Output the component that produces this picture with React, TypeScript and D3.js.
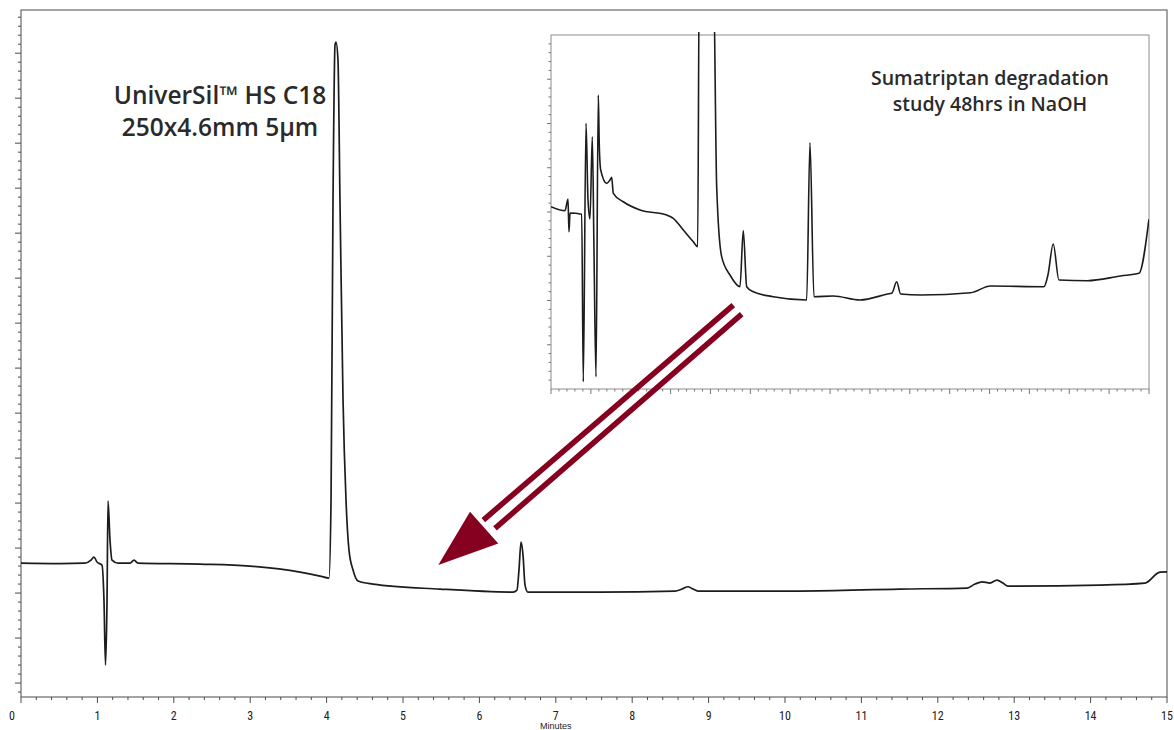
import { useEffect, useRef } from "react";
import * as d3 from "d3";

// main chromatogram: retention time (min) / detector signal (mAU)
const mainTime = [
  0, 0.51, 0.838, 0.916, 0.955, 0.995, 1.06, 1.086, 1.106, 1.126, 1.139, 1.165, 1.191, 1.27, 1.427, 1.479, 1.531,
  2.343, 2.997, 3.652, 3.914, 4.031, 4.058, 4.084, 4.11, 4.123, 4.149, 4.175, 4.215, 4.254, 4.293, 4.346, 4.411,
  4.607, 5.484, 6.44, 6.492, 6.518, 6.545, 6.571, 6.597, 6.636, 7.579, 8.56, 8.652, 8.73, 8.796, 8.861, 10.196,
  11.505, 12.382, 12.487, 12.579, 12.683, 12.775, 12.853, 12.919, 14.123, 14.712, 14.908, 15.0,
];
const mainSignal = [
  6.67, 6.56, 6.67, 7.33, 8.0, 6.89, 6.22, -1.56, -16.0, -1.56, 20.44, 11.78, 7.33, 6.67, 6.67, 7.33, 6.67,
  6.44, 6.0, 4.67, 3.78, 3.33, 20.67, 87.33, 121.78, 122.44, 118.44, 87.33, 42.89, 20.67, 9.56, 5.11, 2.67,
  2.0, 0.89, 0.22, 0.67, 5.11, 11.33, 8.44, 1.78, 0.22, 0.22, 0.44, 0.89, 1.4, 0.89, 0.44, 0.44,
  0.89, 1.11, 2.0, 2.51, 2.22, 2.89, 2.22, 1.56, 1.78, 2.22, 4.67, 4.73,
];

// inset: same run, magnified signal
const insetTime = [
  0.0, 0.351, 0.426, 0.451, 0.477, 0.77, 0.81, 0.878, 0.928, 0.978, 1.036, 1.078, 1.129, 1.186, 1.211, 1.247,
  1.397, 1.48, 1.522, 1.563, 1.813, 2.232, 2.902, 3.067, 3.318, 3.569, 3.679, 3.72, 4.07, 4.156, 4.281, 4.49,
  4.74, 4.823, 4.909, 5.074, 5.576, 6.413, 6.496, 6.596, 7.081, 7.75, 8.435, 8.553, 8.671, 8.771, 9.273,
  10.527, 11.029, 12.365, 12.465, 12.598, 12.741, 13.451, 14.289, 14.748, 14.998,
];
const insetSignal = [
  20.6, 20.15, 21.47, 17.77, 19.89, 19.74, 0.82, 30.02, 21.36, 19.21, 28.51, 15.71, 1.39, 33.22, 27.57, 24.75,
  23.24, 23.62, 23.92, 22.11, 21.16, 20.23, 19.66, 19.29, 17.97, 16.64, 16.08, 48, 48, 22.86, 14.95, 12.88,
  11.56, 17.89, 11.56, 10.99, 10.43, 10.06, 27.83, 10.43, 10.51, 10.06, 10.73, 10.85, 12.12, 10.73, 10.62,
  10.88, 11.64, 11.56, 12.88, 16.38, 12.32, 12.24, 12.77, 13.07, 19.18,
];

const xTickLabels = [0, 1, 2, 3, 4, 5, 6, 7, 8, 9, 10, 11, 12, 13, 14, 15];
const columnLabel = ["UniverSil™ HS C18", "250x4.6mm 5µm"];
const insetLabel = ["Sumatriptan degradation", "study 48hrs in NaOH"];

// arrow from inset down to the baseline region, in main-chart units [time, signal]
const arrowShaftA = [[9.323, 64.0], [6.051, 16.22]];
const arrowShaftB = [[9.433, 62.0], [6.204, 14.38]];
const arrowHead = [[5.462, 6.22], [5.877, 18.07], [6.247, 11.04]];

const W = 1174;
const H = 730;

export default function App() {
  const svgRef = useRef<SVGSVGElement>(null);

  useEffect(() => {
    if (!svgRef.current) return;
    const svg = d3.select(svgRef.current);
    svg.selectAll("*").remove();

    const x = d3.scaleLinear().domain([0, 15]).range([21, 1167]);
    const y = d3.scaleLinear().domain([-23.1, 129.6]).range([697, 10]);

    const frame = "#4a4a4a";

    // frame
    svg.append("rect")
      .attr("x", 21).attr("y", 10).attr("width", 1146).attr("height", 687)
      .attr("fill", "none").attr("stroke", frame).attr("stroke-width", 1);

    // bottom axis
    const xAxis = svg.append("g").attr("transform", "translate(0,697)");
    xAxis.selectAll("line.minor")
      .data(d3.range(0, 75).map((i) => i * 0.2).filter((d) => Math.abs(d - Math.round(d)) > 0.01))
      .enter().append("line")
      .attr("x1", (d) => x(d)).attr("x2", (d) => x(d))
      .attr("y1", 0).attr("y2", 3)
      .attr("stroke", frame);
    xAxis.selectAll("line.major")
      .data(xTickLabels)
      .enter().append("line")
      .attr("x1", (d) => x(d)).attr("x2", (d) => x(d))
      .attr("y1", 0).attr("y2", 6)
      .attr("stroke", frame);
    xAxis.selectAll("text")
      .data(xTickLabels)
      .enter().append("text")
      .attr("x", (d) => (d === 0 ? x(d) - 9 : x(d)))
      .attr("y", 23)
      .attr("text-anchor", "middle")
      .attr("font-family", "'Liberation Sans Narrow', 'Roboto Condensed', 'Liberation Sans', sans-serif")
      .attr("font-size", 12)
      .attr("fill", "#222")
      .text((d) => String(d));
    svg.append("text")
      .attr("x", x(7)).attr("y", 729)
      .attr("text-anchor", "middle")
      .attr("font-family", "'Liberation Sans Narrow', 'Liberation Sans', sans-serif")
      .attr("font-size", 9)
      .attr("fill", "#222")
      .text("Minutes");

    // left axis (unlabelled)
    const yMinor = d3.range(-22, 130, 2);
    svg.append("g").selectAll("line")
      .data(yMinor)
      .enter().append("line")
      .attr("x1", (d) => (d % 10 === 0 ? 15 : 18)).attr("x2", 21)
      .attr("y1", (d) => y(d)).attr("y2", (d) => y(d))
      .attr("stroke", frame);

    // main trace
    const mainData = mainTime.map((t, i) => [t, mainSignal[i]] as [number, number]);
    const line = d3.line<[number, number]>()
      .x((d) => x(d[0]))
      .y((d) => y(d[1]))
      .curve(d3.curveMonotoneX);
    svg.append("path")
      .datum(mainData)
      .attr("d", line)
      .attr("fill", "none")
      .attr("stroke", "#1c1c1c")
      .attr("stroke-width", 1.7)
      .attr("stroke-linejoin", "round");

    // column label
    svg.append("text")
      .attr("x", 220).attr("y", 104)
      .attr("text-anchor", "middle")
      .attr("font-family", "'Open Sans', 'Noto Sans', sans-serif")
      .attr("font-weight", 600)
      .attr("font-size", 24.5)
      .attr("fill", "#2a2a2a")
      .selectAll("tspan")
      .data(columnLabel)
      .enter().append("tspan")
      .attr("x", 220)
      .attr("dy", (_, i) => (i === 0 ? 0 : 32))
      .text((d) => d);

    // inset
    const ix = d3.scaleLinear().domain([0, 15]).range([551, 1149]);
    const iy = d3.scaleLinear().domain([0, 40]).range([389, 35]);
    const inset = svg.append("g");
    inset.append("rect")
      .attr("x", 551).attr("y", 35).attr("width", 598).attr("height", 354)
      .attr("fill", "#fff").attr("stroke", "#8c8c8c").attr("stroke-width", 1);

    inset.selectAll("line.ix")
      .data(d3.range(0, 76).map((i) => i * 0.2))
      .enter().append("line")
      .attr("x1", (d) => ix(d)).attr("x2", (d) => ix(d))
      .attr("y1", 389)
      .attr("y2", (d) => (Math.abs(d - Math.round(d)) < 0.01 ? 394 : 391.5))
      .attr("stroke", "#777");
    inset.selectAll("line.iy")
      .data(d3.range(1, 40))
      .enter().append("line")
      .attr("x1", (d) => (d % 5 === 0 ? 547 : 548.5)).attr("x2", 551)
      .attr("y1", (d) => iy(d)).attr("y2", (d) => iy(d))
      .attr("stroke", "#777");

    svg.append("defs").append("clipPath").attr("id", "insetClip")
      .append("rect").attr("x", 551).attr("y", 32).attr("width", 598).attr("height", 357);

    const insetData = insetTime.map((t, i) => [t, insetSignal[i]] as [number, number]);
    const iline = d3.line<[number, number]>()
      .x((d) => ix(d[0]))
      .y((d) => iy(d[1]))
      .curve(d3.curveMonotoneX);
    inset.append("path")
      .datum(insetData)
      .attr("d", iline)
      .attr("clip-path", "url(#insetClip)")
      .attr("fill", "none")
      .attr("stroke", "#1c1c1c")
      .attr("stroke-width", 1.6)
      .attr("stroke-linejoin", "round");

    inset.append("text")
      .attr("x", 990).attr("y", 85)
      .attr("text-anchor", "middle")
      .attr("font-family", "'Open Sans', 'Noto Sans', sans-serif")
      .attr("font-weight", 600)
      .attr("font-size", 19.5)
      .attr("fill", "#2a2a2a")
      .selectAll("tspan")
      .data(insetLabel)
      .enter().append("tspan")
      .attr("x", 990)
      .attr("dy", (_, i) => (i === 0 ? 0 : 26))
      .text((d) => d);

    // arrow
    const arrowColor = "#860020";
    [arrowShaftA, arrowShaftB].forEach((s) => {
      svg.append("line")
        .attr("x1", x(s[0][0])).attr("y1", y(s[0][1]))
        .attr("x2", x(s[1][0])).attr("y2", y(s[1][1]))
        .attr("stroke", arrowColor)
        .attr("stroke-width", 5.5);
    });
    svg.append("path")
      .attr("d", "M" + arrowHead.map((p) => `${x(p[0])},${y(p[1])}`).join("L") + "Z")
      .attr("fill", arrowColor);
  }, []);

  return (
    <svg
      ref={svgRef}
      width={W}
      height={H}
      style={{ position: "absolute", left: 0, top: 0, background: "#fff" }}
    />
  );
}
